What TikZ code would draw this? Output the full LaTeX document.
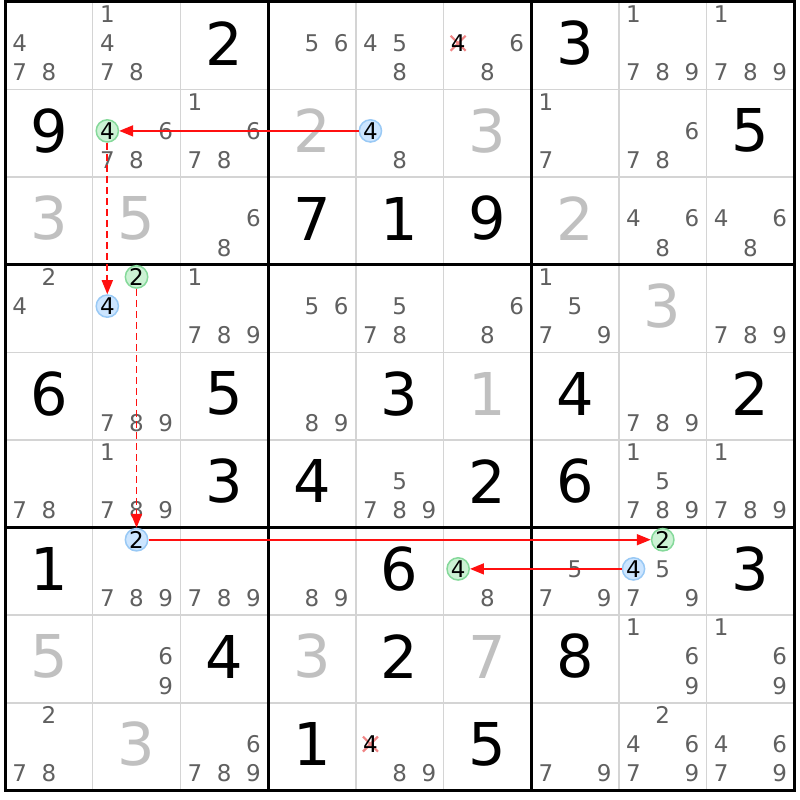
\documentclass[tikz,border=0pt]{standalone}
\usepackage{fontspec}
\setmainfont{DejaVu Sans}
\usetikzlibrary{arrows.meta}
\definecolor{candgray}{HTML}{606060}
\definecolor{solvedgray}{HTML}{C0C0C0}
\definecolor{thingrid}{HTML}{D4D4D4}
\definecolor{bluefill}{HTML}{CCE5FF}
\definecolor{blueline}{HTML}{99C9F5}
\definecolor{greenfill}{HTML}{CCF2D4}
\definecolor{greenline}{HTML}{85D99A}
\definecolor{crosspink}{HTML}{F08585}
\definecolor{linkred}{HTML}{FF1010}
%%% centre of candidate #3 in cell (row #1, column #2)
\newcommand{\candxy}[3]{%
  \pgfmathsetmacro{\candx}{5+87.7*(#2-1)+29.233*(mod(#3-1,3)+0.5)}%
  \pgfmathsetmacro{\candy}{2+87.6*(#1-1)+29.2*(floor((#3-1)/3)+0.5)-2.5}}
\begin{document}
\begin{tikzpicture}[x=1pt,y=-1pt,
  given/.style={inner sep=0pt,font=\fontsize{59}{59}\selectfont},
  solved/.style={given,text=solvedgray},
  cand/.style={inner sep=0pt,text=candgray,font=\fontsize{23}{23}\selectfont},
  bluepick/.style={cand,text=black,circle,minimum size=22pt,line width=1.5pt,draw=blueline,fill=bluefill},
  greenpick/.style={cand,text=black,circle,minimum size=22pt,line width=1.5pt,draw=greenline,fill=greenfill},
  crossmark/.style={color=crosspink,line width=2.2pt},
  thinline/.style={color=thingrid,line width=1.5pt},
  thickline/.style={color=black,line width=3pt,line cap=square},
  link/.style={color=linkred,line width=1.7pt,-{Triangle[length=14pt,width=11pt]}}]
\useasboundingbox (0,0) rectangle (800,800);
\fill[white] (0,0) rectangle (800,800);
%%% the grid
\foreach \i in {1,2,4,5,7,8} {
  \draw[thinline] ({5+87.7*\i},2) -- ({5+87.7*\i},790);
  \draw[thinline] (5,{2+87.6*\i}) -- (794.3,{2+87.6*\i});
}
\foreach \i in {3,6} {
  \draw[thickline] ({5+87.7*\i},2) -- ({5+87.7*\i},790);
  \draw[thickline] (5,{2+87.6*\i}) -- (794.3,{2+87.6*\i});
}
\draw[thickline] (5,2) rectangle (794.3,790);
%%% given digits
\foreach \r/\c/\d in {1/3/2,1/7/3,2/1/9,2/9/5,3/4/7,3/5/1,3/6/9,5/1/6,5/3/5,5/5/3,5/7/4,5/9/2,
  6/3/3,6/4/4,6/6/2,6/7/6,7/1/1,7/5/6,7/9/3,8/3/4,8/5/2,8/7/8,9/4/1,9/6/5}
  \node[given] (g\r\c) at ({5+87.7*(\c-0.5)},{2+87.6*(\r-0.5)-2.5}) {\d};
%%% solved digits
\foreach \r/\c/\d in {2/4/2,2/6/3,3/1/3,3/2/5,3/7/2,4/8/3,5/6/1,8/1/5,8/4/3,8/6/7,9/2/3}
  \node[solved] (s\r\c) at ({5+87.7*(\c-0.5)},{2+87.6*(\r-0.5)-2.5}) {\d};
%%% candidates
\foreach \r/\c/\ds in {1/1/{4,7,8},1/2/{1,4,7,8},1/4/{5,6},1/5/{4,5,8},1/6/{6,8},1/8/{1,7,8,9},1/9/{1,7,8,9},
  2/2/{6,7,8},2/3/{1,6,7,8},2/5/{8},2/7/{1,7},2/8/{6,7,8},
  3/3/{6,8},3/8/{4,6,8},3/9/{4,6,8},
  4/1/{2,4},4/3/{1,7,8,9},4/4/{5,6},4/5/{5,7,8},4/6/{6,8},4/7/{1,5,7,9},4/9/{7,8,9},
  5/2/{7,8,9},5/4/{8,9},5/8/{7,8,9},
  6/1/{7,8},6/2/{1,7,8,9},6/5/{5,7,8,9},6/8/{1,5,7,8,9},6/9/{1,7,8,9},
  7/2/{7,8,9},7/3/{7,8,9},7/4/{8,9},7/6/{8},7/7/{5,7,9},7/8/{5,7,9},
  8/2/{6,9},8/8/{1,6,9},8/9/{1,6,9},
  9/1/{2,7,8},9/3/{6,7,8,9},9/5/{8,9},9/7/{7,9},9/8/{2,4,6,7,9},9/9/{4,6,7,9}}
  \foreach \k in \ds {
    \candxy{\r}{\c}{\k}
    \node[cand] (p\r\c\k) at (\candx,\candy) {\k};
  }
%%% removed candidates
\candxy{1}{6}{4}
\draw[crossmark] ({\candx-7.5},{\candy-7.5}) -- ({\candx+7.5},{\candy+7.5}) ({\candx-7.5},{\candy+7.5}) -- ({\candx+7.5},{\candy-7.5});
\node[cand,text=black] (p164) at (\candx,\candy) {4};
\candxy{9}{5}{4}
\draw[crossmark] ({\candx-7.5},{\candy-7.5}) -- ({\candx+7.5},{\candy+7.5}) ({\candx-7.5},{\candy+7.5}) -- ({\candx+7.5},{\candy-7.5});
\node[cand,text=black] (p954) at (\candx,\candy) {4};
%%% chain of candidates
\candxy{2}{5}{4} \node[bluepick] (p254) at (\candx,\candy) {4};
\candxy{2}{2}{4} \node[greenpick] (p224) at (\candx,\candy) {4};
\candxy{4}{2}{4} \node[bluepick] (p424) at (\candx,\candy) {4};
\candxy{4}{2}{2} \node[greenpick] (p422) at (\candx,\candy) {2};
\candxy{7}{2}{2} \node[bluepick] (p722) at (\candx,\candy) {2};
\candxy{7}{8}{2} \node[greenpick] (p782) at (\candx,\candy) {2};
\candxy{7}{8}{4} \node[bluepick] (p784) at (\candx,\candy) {4};
\candxy{7}{6}{4} \node[greenpick] (p764) at (\candx,\candy) {4};
\draw[link] (p254) -- (p224);
\draw[link,dash pattern=on 7pt off 4pt] (p224) -- (p424);
\draw[link,dash pattern=on 7pt off 4pt] (p422) -- (p722);
\draw[link] (p722) -- (p782);
\draw[link] (p784) -- (p764);
\end{tikzpicture}
\end{document}
